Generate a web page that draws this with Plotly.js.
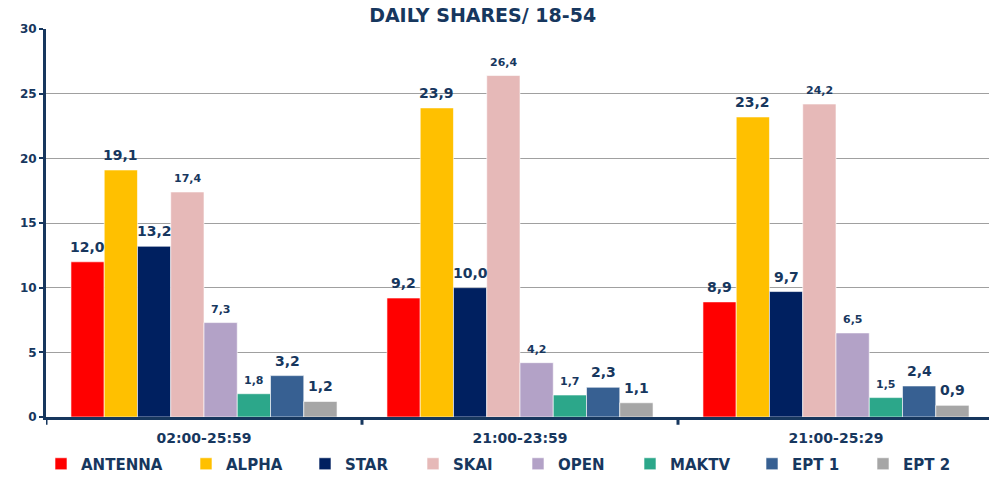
<!DOCTYPE html>
<html>
<head>
<meta charset="utf-8">
<script src="https://cdn.plot.ly/plotly-3.0.1.min.js"></script>
<style>html,body{margin:0;padding:0;background:#fff;}#chart{width:989px;height:478px;}</style>
</head>
<body>
<div id="chart"></div>
<script>
const categories = ["02:00-25:59", "21:00-23:59", "21:00-25:29"];
const channels = ["ANTENNA", "ALPHA", "STAR", "SKAI", "OPEN", "MAKTV", "EPT 1", "EPT 2"];
const antenna = [12.0, 9.2, 8.9];
const alpha   = [19.1, 23.9, 23.2];
const star    = [13.2, 10.0, 9.7];
const skai    = [17.4, 26.4, 24.2];
const open    = [7.3, 4.2, 6.5];
const maktv   = [1.8, 1.7, 1.5];
const ept1    = [3.2, 2.3, 2.4];
const ept2    = [1.2, 1.1, 0.9];
const seriesValues = [antenna, alpha, star, skai, open, maktv, ept1, ept2];
const colors = ["#FF0000", "#FFC000", "#002060", "#E6B9B8", "#B3A2C7", "#2CA78A", "#376092", "#A6A6A6"];
const labelSizes = [14, 14, 14, 11, 11, 11, 14, 14];
// horizontal pixel where each legend entry's text starts
const legendTextX = [81, 226, 345, 453, 558, 670, 792, 903];

const navy = "#17375E";
const FONT = "DejaVu Sans, Verdana, sans-serif";
const W = 989, H = 478;
const bargap = 0.158;
const n = channels.length;
const barW = (1 - bargap) / n;

const legendKey = i => (i === 0 ? "legend" : "legend" + (i + 1));

const traces = channels.map((name, i) => ({
  type: "bar",
  name: name,
  legend: legendKey(i),
  x: categories.map((c, k) => k),
  y: seriesValues[i],
  marker: {color: colors[i], line: {color: "rgba(255,255,255,0.6)", width: 1}},
  hoverinfo: "name+y"
}));

const annotations = [];
channels.forEach((name, i) => {
  seriesValues[i].forEach((v, k) => {
    annotations.push({
      xref: "x", yref: "y",
      x: k + (i - (n - 1) / 2) * barW,
      y: v,
      text: v.toFixed(1).replace(".", ","),
      showarrow: false,
      yanchor: "bottom",
      yshift: 5,
      font: {family: FONT, size: labelSizes[i], color: navy, weight: "bold"}
    });
  });
});

const layout = {
  width: W, height: H,
  margin: {l: 46, r: 0, t: 29, b: 61},
  paper_bgcolor: "#fff", plot_bgcolor: "#fff",
  font: {family: FONT, color: navy, weight: "bold"},
  separators: ",.",
  title: {text: "DAILY SHARES/ 18-54", x: 0.488, xanchor: "center", y: 0.982, yanchor: "top",
          font: {family: FONT, size: 19, color: navy, weight: "bold"}},
  barmode: "group",
  bargap: bargap,
  bargroupgap: 0,
  showlegend: true,
  xaxis: {
    type: "linear",
    range: [-0.5, -0.5 + 943 / 316],
    tickmode: "array", tickvals: [0, 1, 2], ticktext: categories,
    showgrid: false, zeroline: false,
    showline: true, linecolor: navy, linewidth: 3,
    ticks: "", ticklabelstandoff: 6,
    tickfont: {family: FONT, size: 14, color: navy, weight: "bold"},
    fixedrange: true
  },
  yaxis: {
    range: [0, 30], dtick: 5, tick0: 0,
    showgrid: true, gridcolor: "#a0a0a0", gridwidth: 1,
    zeroline: false,
    showline: true, linecolor: navy, linewidth: 3,
    ticks: "outside", ticklen: 4, tickwidth: 2, tickcolor: navy,
    tickfont: {family: FONT, size: 12, color: navy, weight: "bold"},
    fixedrange: true
  },
  shapes: [-0.5, 0.5, 1.5].map(b => ({
    type: "line", xref: "x", yref: "paper", x0: b, x1: b, y0: 0, y1: -0.02,
    line: {color: navy, width: 3}
  })),
  annotations: annotations
};

channels.forEach((name, i) => {
  layout[legendKey(i)] = {
    orientation: "h",
    xref: "container", yref: "container",
    x: (legendTextX[i] - 40) / W, xanchor: "left",
    y: 1 - 464 / H, yanchor: "middle",
    bgcolor: "rgba(0,0,0,0)",
    font: {family: FONT, size: 15, color: navy, weight: "bold"}
  };
});

Plotly.newPlot("chart", traces, layout, {displayModeBar: false, staticPlot: true});
</script>
</body>
</html>
